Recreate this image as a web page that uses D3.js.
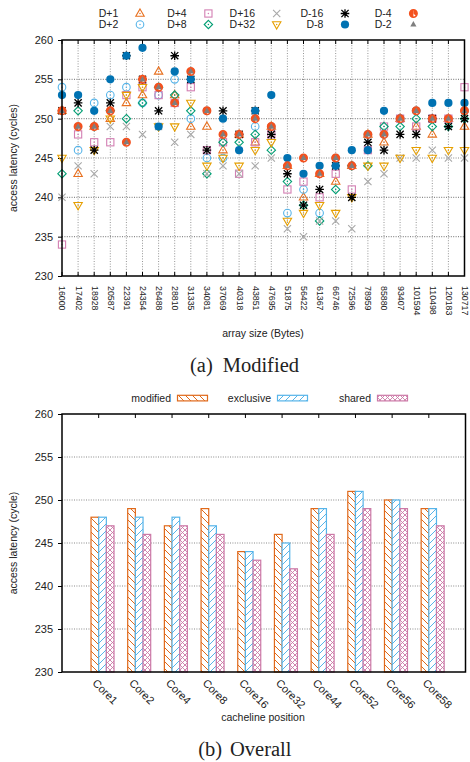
<!DOCTYPE html>
<html><head><meta charset="utf-8">
<script src="https://cdn.jsdelivr.net/npm/d3@7"></script>
<style>body{margin:0;background:#fff} svg text{font-family:"Liberation Sans",Arial,sans-serif;fill:#222}</style>
</head><body><svg id="c" width="470" height="762"></svg>
<script>
// ---------- data: top chart ----------
const categories = ["16000","17402","18928","20587","22391","24354","26488","28810","31335","34081","37069","40318","43851","47695","51875","56422","61367","66746","72596","78959","85880","93407","101594","110498","120183","130717"];
const seriesNames = ["D+1","D+2","D+4","D+8","D+16","D+32","D-16","D-8","D-4","D-2"];
const dPlus1  = [251,243,249,250,252,253,256,253,249,249,246,248,247,249,244,240,243,242,244,248,247,250,249,248,250,249];
const dPlus2  = [254,246,252,253,254,252,253,255,250,245,245,248,249,249,238,241,238,245,244,248,248,250,251,250,250,251];
const dPlus4  = [234,248,247,247,253,254,253,252,254,246,247,243,247,248,241,242,240,243,241,246,249,250,249,250,250,254];
const dPlus8  = [243,251,249,251,250,252,254,253,251,243,247,247,248,246,242,239,237,241,244,244,249,249,250,249,249,250];
const dPlus16 = [240,244,243,249,249,248,249,247,248,243,244,243,244,245,236,235,237,237,236,242,243,245,245,246,245,245];
const dPlus32 = [245,239,246,250,253,254,249,249,252,244,245,244,246,247,237,238,239,238,240,244,244,245,246,245,246,246];
const dMinus16= [251,252,246,252,258,255,251,258,255,246,251,248,251,248,243,239,241,244,240,247,246,248,248,250,249,250];
const dMinus8 = [253,253,251,255,258,259,249,256,255,251,250,246,251,253,245,243,244,244,246,246,251,250,251,252,252,252];
const dMinus4 = [251,249,249,251,247,255,254,252,256,251,248,248,250,249,244,245,243,245,244,248,248,250,251,250,250,251];
const dMinus2 = [251,249,249,251,247,255,254,252,256,251,248,248,250,249,244,245,243,245,244,248,248,250,251,250,250,251];
const yTicks = [230,235,240,245,250,255,260];

// ---------- data: bottom chart ----------
const cores = ["Core1","Core2","Core4","Core8","Core16","Core32","Core44","Core52","Core56","Core58"];
const barSeries = ["modified","exclusive","shared"];
const modified  = [248,249,247,249,244,246,249,251,250,249];
const exclusive = [248,248,248,247,244,245,249,251,250,249];
const shared    = [247,246,247,246,243,242,246,249,249,247];

// ---------- styles ----------
const seriesValues = [dPlus1,dPlus2,dPlus4,dPlus8,dPlus16,dPlus32,dMinus16,dMinus8,dMinus4,dMinus2];
const markerType = ["triUp","circle","square","diamond","cross","triDown","star","dot","half","triFill"];
const markerColor = ["#e8701f","#56b4e9","#d37fb3","#009e73","#a8a8a8","#e69f00","#000000","#0072b2","#f4511e","#7f7f7f"];
const barColor = ["#e0691a","#56b4e9","#cc79a7"];

const svg = d3.select("#c");
const defs = svg.append("defs");

function drawMarker(g, type, color, cx, cy) {
  const s = g.append("g").attr("transform", `translate(${cx},${cy})`);
  const sw = 1.1;
  const dot = () => s.append("circle").attr("r", 0.75).attr("fill", color);
  if (type === "triUp") {
    s.append("path").attr("d", "M0,-4.6L4.2,2.7L-4.2,2.7Z").attr("fill","none").attr("stroke",color).attr("stroke-width",sw); dot();
  } else if (type === "triDown") {
    s.append("path").attr("d", "M0,4.6L4.2,-2.7L-4.2,-2.7Z").attr("fill","none").attr("stroke",color).attr("stroke-width",sw); dot();
  } else if (type === "circle") {
    s.append("circle").attr("r",3.8).attr("fill","none").attr("stroke",color).attr("stroke-width",sw); dot();
  } else if (type === "square") {
    s.append("rect").attr("x",-3.6).attr("y",-3.6).attr("width",7.2).attr("height",7.2).attr("fill","none").attr("stroke",color).attr("stroke-width",sw); dot();
  } else if (type === "diamond") {
    s.append("path").attr("d","M0,-4.2L4.2,0L0,4.2L-4.2,0Z").attr("fill","none").attr("stroke",color).attr("stroke-width",sw); dot();
  } else if (type === "cross") {
    s.append("path").attr("d","M-3.6,-3.6L3.6,3.6M-3.6,3.6L3.6,-3.6").attr("stroke",color).attr("stroke-width",1.1);
  } else if (type === "star") {
    s.append("path").attr("d","M-3.6,-3.6L3.6,3.6M-3.6,3.6L3.6,-3.6M0,-4.3L0,4.3M-4.3,0L4.3,0").attr("stroke",color).attr("stroke-width",1.3);
  } else if (type === "dot") {
    s.append("circle").attr("r",4.1).attr("fill",color);
  } else if (type === "half") {
    s.append("circle").attr("r",3.7).attr("fill","#fff").attr("stroke",color).attr("stroke-width",1.6);
    s.append("path").attr("d","M0,-3.7A3.7,3.7 0 0 0 0,3.7Z").attr("fill",color);
    s.append("path").attr("d","M0,-3.7A3.7,3.7 0 0 1 2.6,2.6L0,0Z").attr("fill",color);
  } else if (type === "triFill") {
    s.append("path").attr("d","M0,-3.4L3.1,2.1L-3.1,2.1Z").attr("fill",color);
  }
}

// ================= TOP CHART =================
const L = 62, R = 464.5, T = 40, B = 276;
const x = d3.scalePoint().domain(categories).range([L, R]);
const y = d3.scaleLinear().domain([230, 260]).range([B, T]);
const gTop = svg.append("g");

// grid
gTop.append("g").selectAll("line").data(categories.slice(1)).join("line")
  .attr("x1", d => x(d)).attr("x2", d => x(d)).attr("y1", T).attr("y2", B)
  .attr("stroke", "#8a8a8a").attr("stroke-width", 0.9).attr("stroke-dasharray", "1,1.6");
gTop.append("g").selectAll("line").data(yTicks.slice(1, -1)).join("line")
  .attr("x1", L).attr("x2", R).attr("y1", d => y(d)).attr("y2", d => y(d))
  .attr("stroke", "#8a8a8a").attr("stroke-width", 1.1).attr("stroke-dasharray", "1,1.4");

// axes
const yAxisTop = gTop.append("g").attr("transform", `translate(${L},0)`)
  .call(d3.axisLeft(y).tickValues(yTicks).tickSize(4).tickPadding(5));
yAxisTop.select(".domain").remove();
yAxisTop.selectAll("text").attr("font-size", 11).attr("font-family", "Liberation Sans, Arial, sans-serif").attr("fill", "#222");
yAxisTop.selectAll("line").attr("stroke", "#000");

const xAxisTop = gTop.append("g").attr("transform", `translate(0,${B})`)
  .call(d3.axisBottom(x).tickSize(0).tickPadding(0));
xAxisTop.select(".domain").remove();
xAxisTop.selectAll("text")
  .attr("font-size", 8.8).attr("font-family", "Liberation Sans, Arial, sans-serif").attr("fill", "#222")
  .attr("text-anchor", "start").attr("transform", "translate(0,10) rotate(90)")
  .attr("x", 0).attr("y", 0).attr("dy", "0.35em");
// mirror ticks
gTop.append("g").selectAll("line").data(categories).join("line")
  .attr("x1", d => x(d)).attr("x2", d => x(d)).attr("y1", T).attr("y2", T + 4)
  .attr("stroke", "#000").attr("stroke-width", 1);
gTop.append("g").selectAll("line").data(categories).join("line")
  .attr("x1", d => x(d)).attr("x2", d => x(d)).attr("y1", B).attr("y2", B - 4)
  .attr("stroke", "#000").attr("stroke-width", 1);

// markers
seriesValues.forEach((vals, si) => {
  const g = gTop.append("g");
  vals.forEach((v, i) => drawMarker(g, markerType[si], markerColor[si], x(categories[i]), y(v)));
});

// frame
gTop.append("rect").attr("x", L).attr("y", T).attr("width", R - L).attr("height", B - T)
  .attr("fill", "none").attr("stroke", "#000").attr("stroke-width", 1.5);

// legend
const legEnds = [118.3, 186.7, 255, 323.3, 391.7];
seriesNames.forEach((n, i) => {
  const col = Math.floor(i / 2), row = i % 2;
  const ly = row === 0 ? 13.5 : 24.5;
  gTop.append("text").attr("x", legEnds[col]).attr("y", ly).attr("dy", "0.35em")
    .attr("text-anchor", "end").attr("font-size", 10.5).text(n);
  drawMarker(gTop, markerType[i], markerColor[i], legEnds[col] + 21.7, ly);
});

// titles
gTop.append("text").attr("transform", `translate(17,${(T + B) / 2}) rotate(-90)`)
  .attr("text-anchor", "middle").attr("font-size", 10.5).text("access latency (cycles)");
gTop.append("text").attr("x", 263).attr("y", 337).attr("text-anchor", "middle")
  .attr("font-size", 10.5).text("array size (Bytes)");
gTop.append("text").attr("x", 190).attr("y", 372).attr("font-size", 20.5)
  .attr("style", "font-family:'Liberation Serif','Times New Roman',serif").text("(a)");
gTop.append("text").attr("x", 222.7).attr("y", 372).attr("font-size", 20.5)
  .attr("style", "font-family:'Liberation Serif','Times New Roman',serif").text("Modified");

// ================= BOTTOM CHART =================
const bL = 62, bR = 465.5, bT = 414, bB = 672;
const xb = d3.scaleLinear().domain([0, 11]).range([bL, bR]);
const yb = d3.scaleLinear().domain([230, 260]).range([bB, bT]);
const gBot = svg.append("g");

// patterns
function hatch(id, color, kind) {
  const p = defs.append("pattern").attr("id", id).attr("patternUnits", "userSpaceOnUse")
    .attr("width", kind === "x" ? 5 : 7).attr("height", kind === "x" ? 5 : 7);
  p.append("rect").attr("width", 7).attr("height", 7).attr("fill", "#fff");
  if (kind === "back") {
    p.append("path").attr("d", "M-1,-1L8,8M-1,6L1,8M6,-1L8,1").attr("stroke", color).attr("stroke-width", 1);
  } else if (kind === "fwd") {
    p.append("path").attr("d", "M-1,8L8,-1M-1,1L1,-1M6,8L8,6").attr("stroke", color).attr("stroke-width", 1);
  } else {
    p.append("path").attr("d", "M-1,-1L6,6M-1,6L6,-1").attr("stroke", color).attr("stroke-width", 0.9);
  }
}
hatch("pat0", barColor[0], "back");
hatch("pat1", barColor[1], "fwd");
hatch("pat2", barColor[2], "x");

// grid
gBot.append("g").selectAll("line").data(yTicks.slice(1, -1)).join("line")
  .attr("x1", bL).attr("x2", bR).attr("y1", d => yb(d)).attr("y2", d => yb(d))
  .attr("stroke", "#8a8a8a").attr("stroke-width", 1.1).attr("stroke-dasharray", "1,1.4");

const yAxisBot = gBot.append("g").attr("transform", `translate(${bL},0)`)
  .call(d3.axisLeft(yb).tickValues(yTicks).tickSize(4).tickPadding(5));
yAxisBot.select(".domain").remove();
yAxisBot.selectAll("text").attr("font-size", 11).attr("font-family", "Liberation Sans, Arial, sans-serif").attr("fill", "#222");

// bars
const barData = [modified, exclusive, shared];
const bw = 0.209;
barData.forEach((vals, j) => {
  gBot.append("g").selectAll("rect").data(vals).join("rect")
    .attr("x", (d, i) => xb(i + 1 + (j - 1) * bw))
    .attr("y", d => yb(d))
    .attr("width", xb(bw) - xb(0))
    .attr("height", d => yb(230) - yb(d))
    .attr("fill", `url(#pat${j})`).attr("stroke", barColor[j]).attr("stroke-width", 1.2);
});

// top mirror ticks
gBot.append("g").selectAll("line").data(cores).join("line")
  .attr("x1", (d, i) => xb(i + 1)).attr("x2", (d, i) => xb(i + 1)).attr("y1", bT).attr("y2", bT + 4)
  .attr("stroke", "#000");

// x labels
gBot.append("g").selectAll("text").data(cores).join("text")
  .attr("transform", (d, i) => `translate(${xb(i + 1) - 1},${bB + 6}) rotate(45)`)
  .attr("dy", "0.75em").attr("font-size", 11).text(d => d);

gBot.append("rect").attr("x", bL).attr("y", bT).attr("width", bR - bL).attr("height", bB - bT)
  .attr("fill", "none").attr("stroke", "#000").attr("stroke-width", 1.5);

// legend
const bLegEnds = [171, 271, 371];
barSeries.forEach((n, j) => {
  gBot.append("text").attr("x", bLegEnds[j]).attr("y", 398).attr("dy", "0.35em")
    .attr("text-anchor", "end").attr("font-size", 10.5).text(n);
  gBot.append("rect").attr("x", bLegEnds[j] + 6.5).attr("y", 395.3).attr("width", 30).attr("height", 5.6)
    .attr("fill", `url(#pat${j})`).attr("stroke", barColor[j]).attr("stroke-width", 1.2);
});

gBot.append("text").attr("transform", `translate(17,${(bT + bB) / 2}) rotate(-90)`)
  .attr("text-anchor", "middle").attr("font-size", 10.5).text("access latency (cycle)");
gBot.append("text").attr("x", 263).attr("y", 721).attr("text-anchor", "middle")
  .attr("font-size", 10.5).text("cacheline position");
gBot.append("text").attr("x", 198.3).attr("y", 756).attr("font-size", 20.5)
  .attr("style", "font-family:'Liberation Serif','Times New Roman',serif").text("(b)");
gBot.append("text").attr("x", 230).attr("y", 756).attr("font-size", 20.5)
  .attr("style", "font-family:'Liberation Serif','Times New Roman',serif").text("Overall");
</script></body></html>
